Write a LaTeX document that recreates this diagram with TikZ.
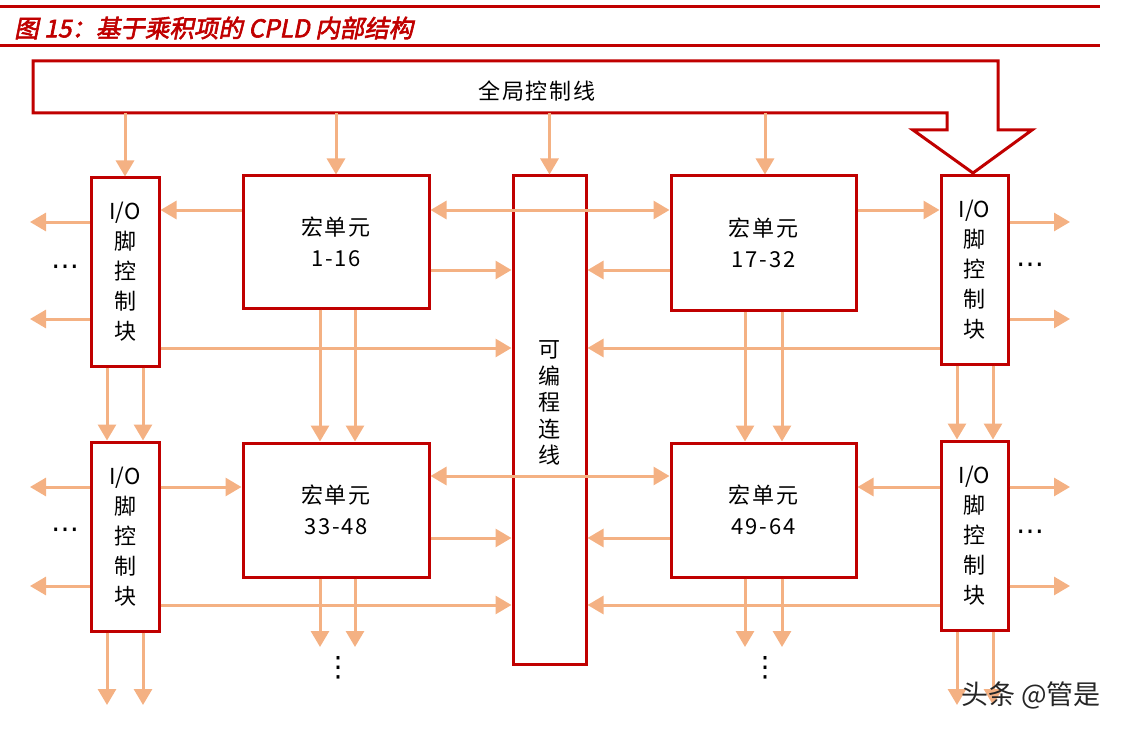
\documentclass[tikz,border=0pt]{standalone}
\usepackage{fontspec}
\setmainfont{Noto Sans CJK SC}
\newfontfamily\titlefont[FakeSlant=0.2,FakeBold=2.5]{Noto Sans CJK SC}
\newfontfamily\boxfont[LetterSpace=8]{Noto Sans CJK SC}
\newfontfamily\symfont{DejaVu Sans}
\usetikzlibrary{arrows.meta}
\definecolor{boxred}{HTML}{C00000}
\definecolor{arrcol}{HTML}{F4B183}
\begin{document}
\begin{tikzpicture}[x=1bp,y=-1bp,
  box/.style={draw=boxred, line width=3bp, fill=white, inner sep=0pt, align=center,
    font=\fontsize{22bp}{30bp}\selectfont},
  mbox/.style={box, font=\boxfont\fontsize{22bp}{31bp}\selectfont},
  arr/.style={draw=arrcol, line width=3bp, -{Triangle[length=16bp 0 0,width=18bp 0 0]}},
  barr/.style={draw=arrcol, line width=3bp, {Triangle[length=16bp 0 0,width=18bp 0 0]}-{Triangle[length=16bp 0 0,width=18bp 0 0]}},
  dotsty/.style={font=\symfont\fontsize{28bp}{28bp}\selectfont, inner sep=0pt},
]
\useasboundingbox (0,0) rectangle (1128,733);

% title
\draw[boxred, line width=3bp] (0,6.5) -- (1100,6.5);
\draw[boxred, line width=2.5bp] (0,45.5) -- (1100,45.5);
\node[anchor=west, text=boxred, font=\titlefont\fontsize{24.5bp}{24.5bp}\selectfont, inner sep=0pt] (title) at (14,28) {图 15：基于乘积项的 CPLD 内部结构};

% global control line arrow
\draw[boxred, line width=3bp, line join=miter] (33,61) -- (998,61) -- (998,130) -- (1032,130) -- (973,173) -- (913,130) -- (947,130) -- (947,113) -- (33,113) -- cycle;
\node[font=\boxfont\fontsize{22bp}{22bp}\selectfont] (gtxt) at (537,91) {全局控制线};
\coordinate (barbot) at (0,113);

% boxes
\node[box, minimum width=68bp, minimum height=188bp] (io1) at (125,272) {I/O\\脚\\控\\制\\块};
\node[box, minimum width=68bp, minimum height=189bp] (io2) at (125,536.5) {I/O\\脚\\控\\制\\块};
\node[box, minimum width=67bp, minimum height=188bp] (io3) at (974.5,270) {I/O\\脚\\控\\制\\块};
\node[box, minimum width=67bp, minimum height=189bp] (io4) at (974.5,535.5) {I/O\\脚\\控\\制\\块};
\node[mbox, minimum width=186bp, minimum height=132bp] (m1) at (336,242) {宏单元\\1-16};
\node[mbox, minimum width=186bp, minimum height=134bp] (m2) at (336,510) {宏单元\\33-48};
\node[mbox, minimum width=185bp, minimum height=134bp] (m3) at (763.5,243) {宏单元\\17-32};
\node[mbox, minimum width=185bp, minimum height=134bp] (m4) at (763.5,510) {宏单元\\49-64};
\node[box, minimum width=73bp, minimum height=488bp] (p) at (549.5,420) {};
\node[align=center, font=\fontsize{22bp}{26.5bp}\selectfont] (ptxt) at (549.5,403) {可\\编\\程\\连\\线};

% helper coordinates
\coordinate (r1) at (0,210);
\coordinate (r2) at (0,222);
\coordinate (r3) at (0,270);
\coordinate (r4) at (0,319);
\coordinate (r5) at (0,348);
\coordinate (r6) at (0,476);
\coordinate (r7) at (0,487);
\coordinate (r8) at (0,538);
\coordinate (r9) at (0,586);
\coordinate (r10) at (0,605);
\coordinate (xL) at (30,0);
\coordinate (xR) at (1070,0);
\coordinate (c1) at (107,0);
\coordinate (c2) at (143,0);
\coordinate (c3) at (320,0);
\coordinate (c4) at (355,0);
\coordinate (c5) at (745,0);
\coordinate (c6) at (782,0);
\coordinate (c7) at (957,0);
\coordinate (c8) at (993,0);
\coordinate (yB1) at (0,705);
\coordinate (yB2) at (0,647);

% global control arrows
\draw[arr] (io1.north |- barbot) -- (io1.north);
\draw[arr] (m1.north |- barbot) -- (m1.north);
\draw[arr] (p.north |- barbot) -- (p.north);
\draw[arr] ([xshift=1.5bp]m3.north |- barbot) -- ([xshift=1.5bp]m3.north);

% upper row horizontals
\draw[arr] (m1.west |- r1) -- (io1.east |- r1);
\draw[barr] (m1.east |- r1) -- (m3.west |- r1);
\draw[arr] (m3.east |- r1) -- (io3.west |- r1);
\draw[arr] (io1.west |- r2) -- (xL |- r2);
\draw[arr] (io1.west |- r4) -- (xL |- r4);
\draw[arr] (io3.east |- r2) -- (xR |- r2);
\draw[arr] (io3.east |- r4) -- (xR |- r4);
\draw[arr] (m1.east |- r3) -- (p.west |- r3);
\draw[arr] (m3.west |- r3) -- (p.east |- r3);
\draw[arr] (io1.east |- r5) -- (p.west |- r5);
\draw[arr] (io3.west |- r5) -- (p.east |- r5);

% lower row horizontals
\draw[barr] (m2.east |- r6) -- (m4.west |- r6);
\draw[arr] (io2.east |- r7) -- (m2.west |- r7);
\draw[arr] (io4.west |- r7) -- (m4.east |- r7);
\draw[arr] (io2.west |- r7) -- (xL |- r7);
\draw[arr] (io2.west |- r9) -- (xL |- r9);
\draw[arr] (io4.east |- r7) -- (xR |- r7);
\draw[arr] (io4.east |- r9) -- (xR |- r9);
\draw[arr] (m2.east |- r8) -- (p.west |- r8);
\draw[arr] (m4.west |- r8) -- (p.east |- r8);
\draw[arr] (io2.east |- r10) -- (p.west |- r10);
\draw[arr] (io4.west |- r10) -- (p.east |- r10);

% verticals between rows
\draw[arr] (c1 |- io1.south) -- (c1 |- io2.north);
\draw[arr] (c2 |- io1.south) -- (c2 |- io2.north);
\draw[arr] (c3 |- m1.south) -- (c3 |- m2.north);
\draw[arr] (c4 |- m1.south) -- (c4 |- m2.north);
\draw[arr] (c5 |- m3.south) -- (c5 |- m4.north);
\draw[arr] (c6 |- m3.south) -- (c6 |- m4.north);
\draw[arr] (c7 |- io3.south) -- (c7 |- io4.north);
\draw[arr] (c8 |- io3.south) -- (c8 |- io4.north);

% bottom outputs
\draw[arr] (c1 |- io2.south) -- (c1 |- yB1);
\draw[arr] (c2 |- io2.south) -- (c2 |- yB1);
\draw[arr] (c3 |- m2.south) -- (c3 |- yB2);
\draw[arr] (c4 |- m2.south) -- (c4 |- yB2);
\draw[arr] (c5 |- m4.south) -- (c5 |- yB2);
\draw[arr] (c6 |- m4.south) -- (c6 |- yB2);
\draw[arr] (c7 |- io4.south) -- (c7 |- yB1);
\draw[arr] (c8 |- io4.south) -- (c8 |- yB1);

% dots
\node[dotsty] (d1) at (65,270) {⋯};
\node[dotsty] (d2) at (65,533) {⋯};
\node[dotsty] (d3) at (1030,268) {⋯};
\node[dotsty] (d4) at (1030,535) {⋯};
\node[dotsty] (d5) at (338,668) {⋮};
\node[dotsty] (d6) at (765,668) {⋮};

% watermark
\node[font=\fontsize{27bp}{27bp}\selectfont, text=black!85, inner sep=0pt] (wm) at (1031,695) {头条 @管是};
\end{tikzpicture}
\end{document}
